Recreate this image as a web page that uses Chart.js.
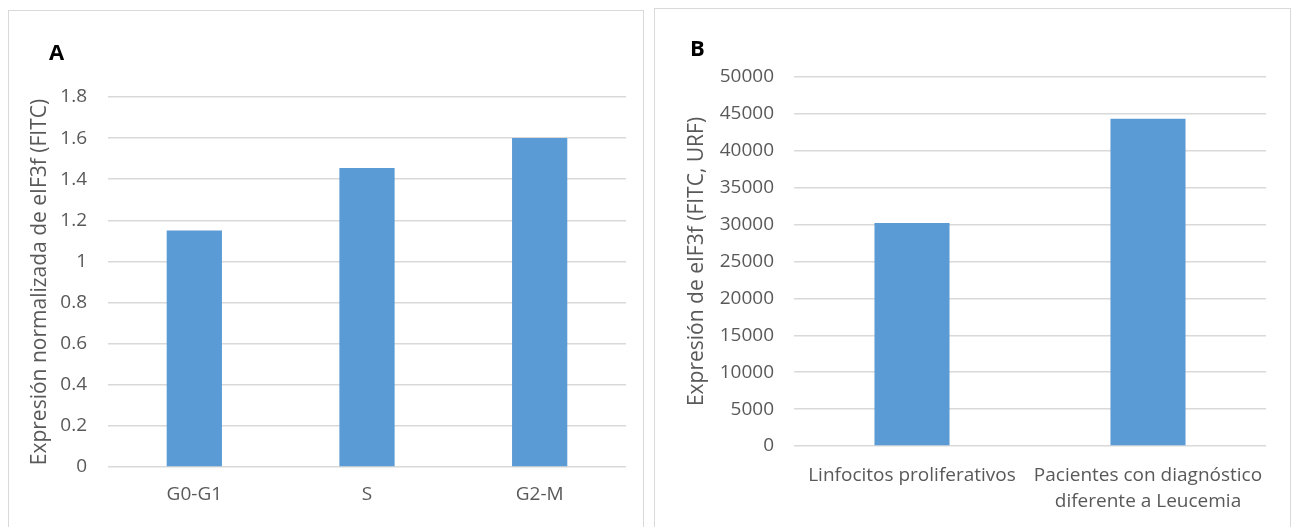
<!DOCTYPE html>
<html>
<head>
<meta charset="utf-8">
<script src="https://cdn.jsdelivr.net/npm/chart.js@4/dist/chart.umd.min.js"></script>
<style>
  html, body { margin: 0; padding: 0; background: #fff; }
  body { width: 1292px; height: 527px; position: relative; overflow: hidden; font-family: "Open Sans", sans-serif; }
  .panel { position: absolute; border: 1px solid #d9d9d9; background: #fff; box-sizing: border-box; }
  .panel canvas { position: absolute; left: 0; top: 0; }
  .letter { position: absolute; font-weight: bold; font-size: 22px; color: #000; }
</style>
</head>
<body>
<div class="panel" id="panelA" style="left:8px; top:10px; width:636px; height:530px;">
  <canvas id="chartA"></canvas>
  <div class="letter" style="left:40px; top:25px;">A</div>
</div>
<div class="panel" id="panelB" style="left:654px; top:8px; width:637px; height:530px;">
  <canvas id="chartB"></canvas>
  <div class="letter" style="left:35px; top:23px;">B</div>
</div>
<script>
// cell cycle phases
var phaseLabels = ['G0-G1', 'S', 'G2-M'];
var phaseValues = [1.15, 1.455, 1.6];
var phaseTicks = [0, 0.2, 0.4, 0.6, 0.8, 1, 1.2, 1.4, 1.6, 1.8];

// patient groups
var groupLabels = ['Linfocitos proliferativos', ['Pacientes con diagnóstico', 'diferente a Leucemia']];
var groupValues = [30200, 44350];
var groupTicks = [0, 5000, 10000, 15000, 20000, 25000, 30000, 35000, 40000, 45000, 50000];

var BAR = '#5b9bd5';
var GRID = '#d9d9d9';
var TEXT = '#595959';

Chart.defaults.font.family = '"Open Sans", sans-serif';
Chart.defaults.color = TEXT;
Chart.defaults.animation = false;

function makeChart(id, w, h, labels, values, ticks, yTitle, opt) {
  var cv = document.getElementById(id);
  cv.width = w; cv.height = h;
  cv.style.width = w + 'px'; cv.style.height = h + 'px';
  return new Chart(cv, {
    type: 'bar',
    data: {
      labels: labels,
      datasets: [{
        data: values,
        backgroundColor: BAR,
        borderWidth: 0,
        categoryPercentage: 1,
        barPercentage: opt.barPct
      }]
    },
    options: {
      responsive: false,
      devicePixelRatio: 1,
      layout: { padding: opt.padding },
      plugins: { legend: { display: false }, tooltip: { enabled: false } },
      scales: {
        x: {
          grid: { display: false, drawTicks: false },
          border: { display: false },
          ticks: { font: { size: 19, lineHeight: 1.35 }, color: TEXT, padding: opt.xPad, maxRotation: 0, autoSkip: false },
          afterFit: function (s) { s.height = opt.xHeight; }
        },
        y: {
          min: ticks[0],
          max: ticks[ticks.length - 1],
          afterBuildTicks: function (s) { s.ticks = ticks.map(function (v) { return { value: v }; }); },
          grid: { color: GRID, lineWidth: 1.5, drawTicks: false },
          border: { display: false },
          ticks: { font: { size: 19 }, color: TEXT, padding: opt.yPad,
            callback: function (v) { return String(v); } },
          title: { display: true, text: yTitle, color: TEXT, font: { size: 21 }, padding: { top: opt.titlePad, bottom: 0 } },
          afterFit: function (s) { s.width = opt.yWidth; }
        }
      }
    }
  });
}

makeChart('chartA', 636, 517, phaseLabels, phaseValues, phaseTicks,
  'Expresión normalizada de eIF3f (FITC)',
  { barPct: 0.32, padding: { left: 0, right: 19, top: 86, bottom: 0 }, yWidth: 99, yPad: 21, titlePad: 18, xPad: 15, xHeight: 61 });

makeChart('chartB', 637, 519, groupLabels, groupValues, groupTicks,
  'Expresión de eIF3f (FITC, URF)',
  { barPct: 0.318, padding: { left: 0, right: 26, top: 68, bottom: 0 }, yWidth: 139, yPad: 20, titlePad: 29, xPad: 17, xHeight: 82 });
</script>
</body>
</html>
